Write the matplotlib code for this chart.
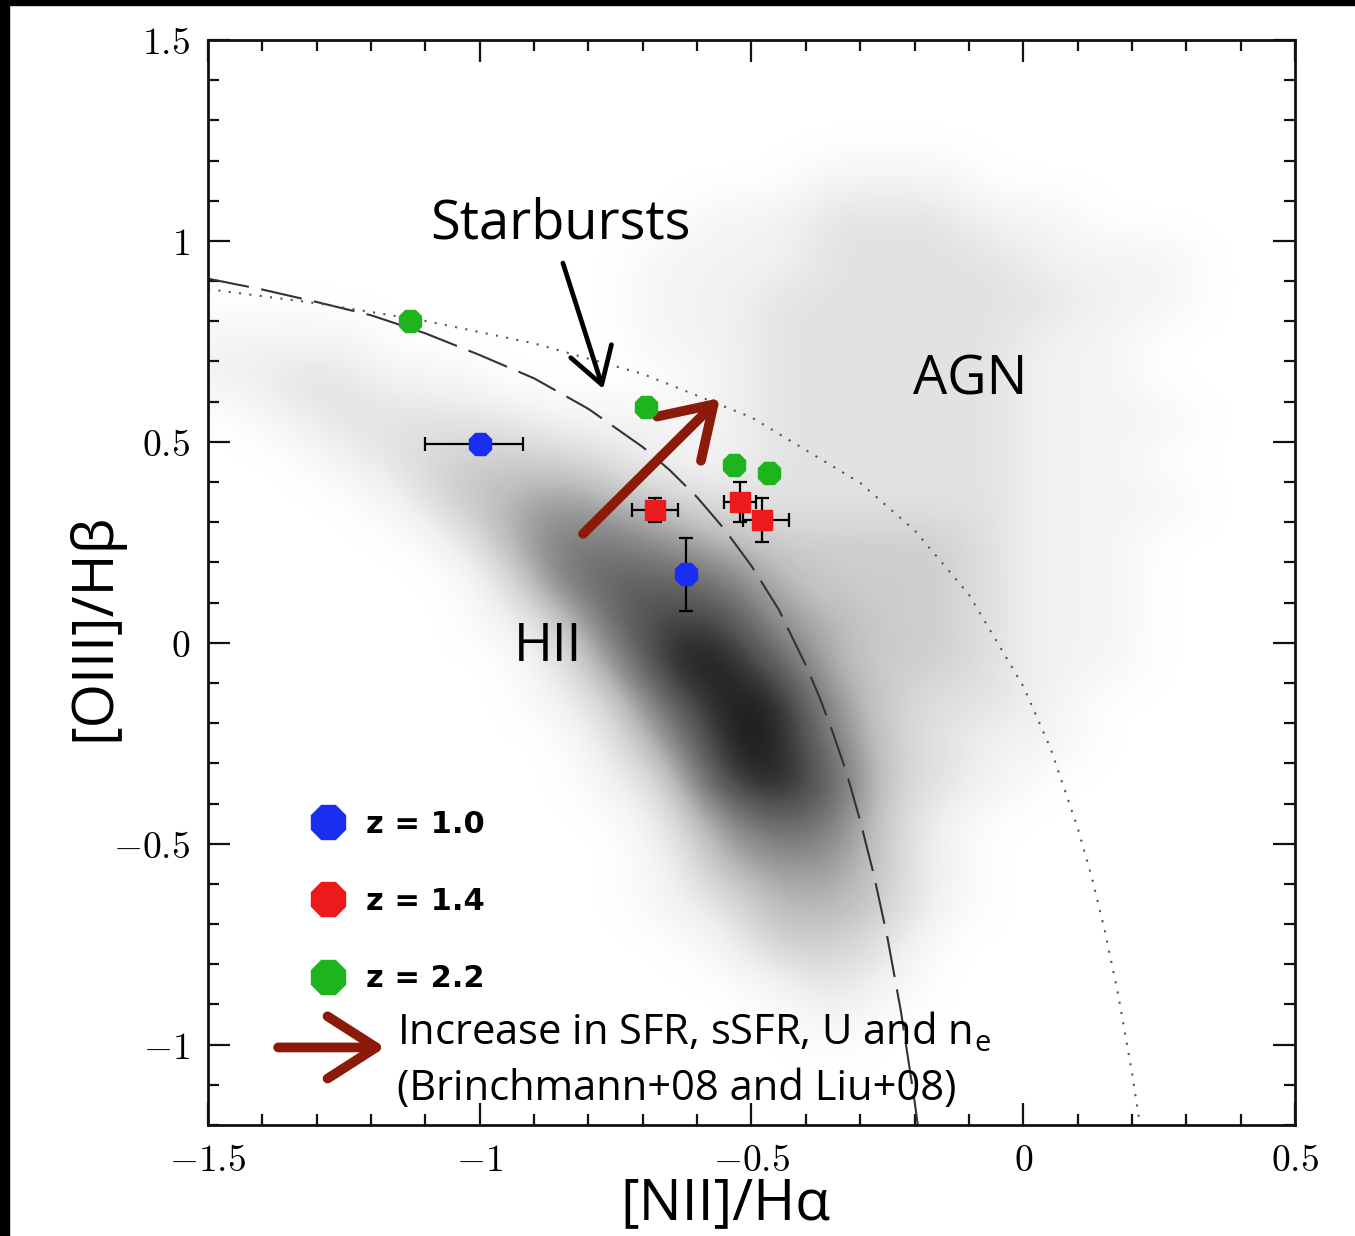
import matplotlib
matplotlib.use("Agg")
import numpy as np
import matplotlib.pyplot as plt
from matplotlib.lines import Line2D
from matplotlib.patches import Rectangle

plt.rcParams['mathtext.fontset'] = 'cm'

# SDSS galaxy cloud: dot density per 0.1 x 0.1 dex cell (0 = empty .. 9 = densest)
# columns: [NII]/Ha from -1.5 to 0.5, rows: [OIII]/Hb from 1.5 (top) down to -1.2
cloud_rows = [
    "00000000000000000000",  # 1.45
    "00000000000000000000",  # 1.35
    "00000000000000000000",  # 1.25
    "00000000000111000000",  # 1.15
    "00000000011222110000",  # 1.05
    "00000000111222211100",  # 0.95
    "00000000112222221100",  # 0.85
    "11100000112222211000",  # 0.75
    "12211000012222211000",  # 0.65
    "01222211112222211100",  # 0.55
    "00123332112222211000",  # 0.45
    "00013454322222211100",  # 0.35
    "00001466543333211000",  # 0.25
    "00000267764333211000",  # 0.15
    "00000137885433211000",  # 0.05
    "00000025997433211000",  # -0.05
    "00000013799532210000",  # -0.15
    "00000002599632110000",  # -0.25
    "00000001389732100000",  # -0.35
    "00000000257631000000",  # -0.45
    "00000000145531000000",  # -0.55
    "00000000124431000000",  # -0.65
    "00000000013320000000",  # -0.75
    "00000000001210000000",  # -0.85
    "00000000000100000000",  # -0.95
    "00000000000000000000",  # -1.05
    "00000000000000000000",  # -1.15
]

# demarcation lines
kauff_x = [-1.5, -1.4, -1.3, -1.2, -1.1, -1.0, -0.9, -0.8, -0.7, -0.65, -0.6, -0.55,
           -0.5, -0.45, -0.4, -0.375, -0.35, -0.325, -0.3, -0.275, -0.25, -0.225, -0.2, -0.194]
kauff_y = [0.906, 0.879, 0.848, 0.815, 0.770, 0.716, 0.658, 0.582, 0.487, 0.429, 0.362, 0.283,
           0.191, 0.083, -0.056, -0.135, -0.225, -0.324, -0.443, -0.577, -0.733, -0.918, -1.140, -1.200]
kewley_x = [-1.5, -1.3, -1.1, -0.9, -0.7, -0.5, -0.3, -0.2, -0.1, 0.0, 0.05, 0.1,
            0.125, 0.15, 0.175, 0.2, 0.215]
kewley_y = [0.880, 0.845, 0.801, 0.745, 0.669, 0.561, 0.398, 0.280, 0.120, -0.108, -0.262, -0.460,
            -0.578, -0.716, -0.878, -1.069, -1.202]

# high-z samples
z10_x = [-1.00, -0.62]
z10_y = [0.495, 0.17]
z10_xerr = [[0.10, 0.0], [0.08, 0.0]]
z10_yerr = [0.0, 0.09]

z14_x = [-0.678, -0.521, -0.481]
z14_y = [0.331, 0.351, 0.305]
z14_xerr = [[0.042, 0.03, 0.035], [0.042, 0.03, 0.05]]
z14_yerr = [0.03, 0.05, 0.055]

z22_x = [-1.128, -0.694, -0.532, -0.468]
z22_y = [0.801, 0.587, 0.443, 0.423]

labels = ["z = 1.0", "z = 1.4", "z = 2.2"]
colors = ["#1a2ef2", "#ec1a1a", "#1db41d"]

xticks = [-1.5, -1.0, -0.5, 0.0, 0.5]
xtick_labels = [r"$-1.5$", r"$-1$", r"$-0.5$", r"$0$", r"$0.5$"]
yticks = [-1.0, -0.5, 0.0, 0.5, 1.0, 1.5]
ytick_labels = [r"$-1$", r"$-0.5$", r"$0$", r"$0.5$", r"$1$", r"$1.5$"]

W, H = 1355, 1236
fig = plt.figure(figsize=(W / 100, H / 100), dpi=100)
ax = fig.add_axes([208 / W, 1 - 1125 / H, (1295 - 208) / W, (1125 - 40) / H])

density = np.array([[int(c) for c in row] for row in cloud_rows], dtype=float)
ax.imshow(density, extent=(-1.5, 0.5, -1.2, 1.5), origin='upper', cmap='Greys',
          vmin=0, vmax=10, interpolation='bicubic', aspect='auto', zorder=0)

ax.plot(kauff_x, kauff_y, color='#333333', lw=1.5, dashes=(20, 6), zorder=2)
ax.plot(kewley_x, kewley_y, color='#555555', lw=1.5, ls=(0, (1, 4)), zorder=2)

ax.errorbar(z10_x, z10_y, xerr=z10_xerr, yerr=z10_yerr, fmt='none', ecolor='black',
            elinewidth=1.6, capsize=5, capthick=1.6, zorder=3)
ax.errorbar(z14_x, z14_y, xerr=z14_xerr, yerr=z14_yerr, fmt='none', ecolor='black',
            elinewidth=1.6, capsize=5, capthick=1.6, zorder=3)
ax.plot(z10_x, z10_y, ls='none', marker='8', ms=17, color=colors[0], mec=colors[0], zorder=4)
ax.plot(z14_x, z14_y, ls='none', marker='s', ms=15, color=colors[1], mec=colors[1], zorder=4)
ax.plot(z22_x, z22_y, ls='none', marker='8', ms=17, color=colors[2], mec=colors[2], zorder=4)

ax.set_xlim(-1.5, 0.5)
ax.set_ylim(-1.2, 1.5)
ax.set_xticks(xticks, labels=xtick_labels)
ax.set_yticks(yticks, labels=ytick_labels)
ax.set_xticks(np.arange(-1.5, 0.51, 0.1), minor=True)
ax.set_yticks(np.arange(-1.2, 1.51, 0.1), minor=True)
ax.tick_params(which='both', direction='in', top=True, right=True, width=1.6, color='#111111')
ax.tick_params(which='major', length=16, labelsize=27, pad=13)
ax.tick_params(which='minor', length=8)
for s in ax.spines.values():
    s.set_linewidth(2)
    s.set_color('#111111')

big = dict(family='Open Sans', color='black')
fig.text(725 / W, 1 - 1205 / H, "[NII]/Hα", ha='center', va='center', fontsize=41, **big)
fig.text(95 / W, 1 - 627 / H, "[OIII]/Hβ", ha='center', va='center', rotation=90, fontsize=41, **big)

ax.text(-0.852, 1.005, "Starbursts", ha='center', va='baseline', fontsize=39, **big)
ax.text(-0.098, 0.619, "AGN", ha='center', va='baseline', fontsize=39, **big)
ax.text(-0.874, -0.045, "HII", ha='center', va='baseline', fontsize=38, **big)

ax.annotate('', xy=(-0.773, 0.632), xytext=(-0.847, 0.945),
            arrowprops=dict(arrowstyle='->,head_length=1.8,head_width=1.1', lw=3.4,
                            color='black', shrinkA=0, shrinkB=0, mutation_scale=14))
dark_red = '#8b1a0a'
ax.annotate('', xy=(-0.558, 0.609), xytext=(-0.810, 0.271),
            arrowprops=dict(arrowstyle='->,head_length=2.5,head_width=1.6', lw=7,
                            color=dark_red, shrinkA=0, shrinkB=0, mutation_scale=14,
                            capstyle='round', joinstyle='round'))
ax.annotate('', xy=(-1.174, -1.007), xytext=(-1.371, -1.007),
            arrowprops=dict(arrowstyle='->,head_length=2.5,head_width=1.6', lw=7,
                            color=dark_red, shrinkA=0, shrinkB=0, mutation_scale=14,
                            capstyle='round', joinstyle='round'))

ax.text((397 - 208) / 1087, (1125 - 1045) / 1085, r"Increase in SFR, sSFR, U and n$_\mathregular{e}$",
        transform=ax.transAxes, ha='left', va='baseline', fontsize=30, **big)
ax.text((397 - 208) / 1087, (1125 - 1100) / 1085, "(Brinchmann+08 and Liu+08)",
        transform=ax.transAxes, ha='left', va='baseline', fontsize=30, **big)

handles = [Line2D([], [], ls='none', marker='8', ms=26, color=c, mec=c) for c in colors]
leg = ax.legend(handles, labels, loc='upper left', bbox_to_anchor=(0.071, 0.316),
                frameon=False, handlelength=1.0, handletextpad=0.75, labelspacing=1.58,
                prop=dict(family='DejaVu Sans', weight='bold', size=22))

fig.patches.append(Rectangle((0, 0), 9 / W, 1, transform=fig.transFigure, color='black', zorder=10))
fig.patches.append(Rectangle((0, 1 - 5 / H), 1, 5 / H, transform=fig.transFigure, color='black', zorder=10))

fig.savefig("out.png", dpi=100, facecolor='white')
